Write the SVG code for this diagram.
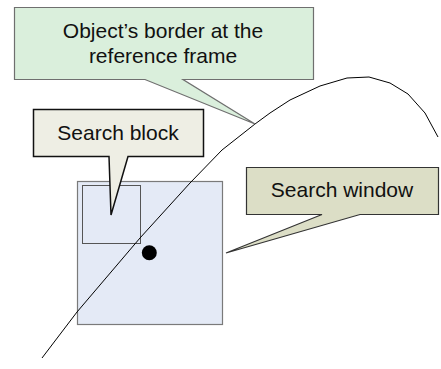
<svg xmlns="http://www.w3.org/2000/svg" width="441" height="369" viewBox="0 0 441 369">
  <style>
    .label { font-family: "Liberation Sans", Arial, sans-serif; font-size: 21px; fill: #111; text-anchor: middle; }
    .callout { stroke-linejoin: miter; }
    .curve { fill: none; stroke: #000; stroke-width: 1; stroke-linejoin: round; }
  </style>
  <rect width="441" height="369" fill="#fff"/>

  <!-- search window area with search block inside -->
  <g id="search-window-area">
    <rect x="77.5" y="181.5" width="145" height="143" fill="#e4eaf6" stroke="#7a7a7a" stroke-width="1.2"/>
  </g>
  <g id="search-block-area">
    <rect x="82.5" y="185.5" width="58" height="58" fill="none" stroke="#555" stroke-width="1"/>
  </g>
  <g id="center-point">
    <circle cx="149.3" cy="252.7" r="7.5" fill="#000"/>
  </g>

  <!-- object's border curve -->
  <g id="connectors">
    <polyline class="curve" points="42,358 77,312 140,238 190,183 222,150 255,124 270,113 290,100 320,86 347,78 369,77 390,83 408,94 425,113 438,137"/>
  </g>

  <!-- callouts -->
  <g id="callout-border">
    <path class="callout" d="M14.5,7.5 H313.5 V79.5 H183 L255,124 L145,79.5 H14.5 Z" fill="#daefdc" stroke="#6f6f6f" stroke-width="1.2"/>
    <text class="label" x="163" y="38">Object’s border at the</text>
    <text class="label" x="163" y="63">reference frame</text>
  </g>
  <g id="callout-search-block">
    <path class="callout" d="M33.5,109.5 H203.5 V156.5 H128 L111,215 L109,156.5 H33.5 Z" fill="#eeeee4" stroke="#111" stroke-width="1.5"/>
    <text class="label" x="118" y="140">Search block</text>
  </g>
  <g id="callout-search-window">
    <path class="callout" d="M246.5,167.5 H438.5 V214.5 H360 L226,253 L322,214.5 H246.5 Z" fill="#dcdec6" stroke="#333" stroke-width="1.2"/>
    <text class="label" x="342" y="197">Search window</text>
  </g>
</svg>
